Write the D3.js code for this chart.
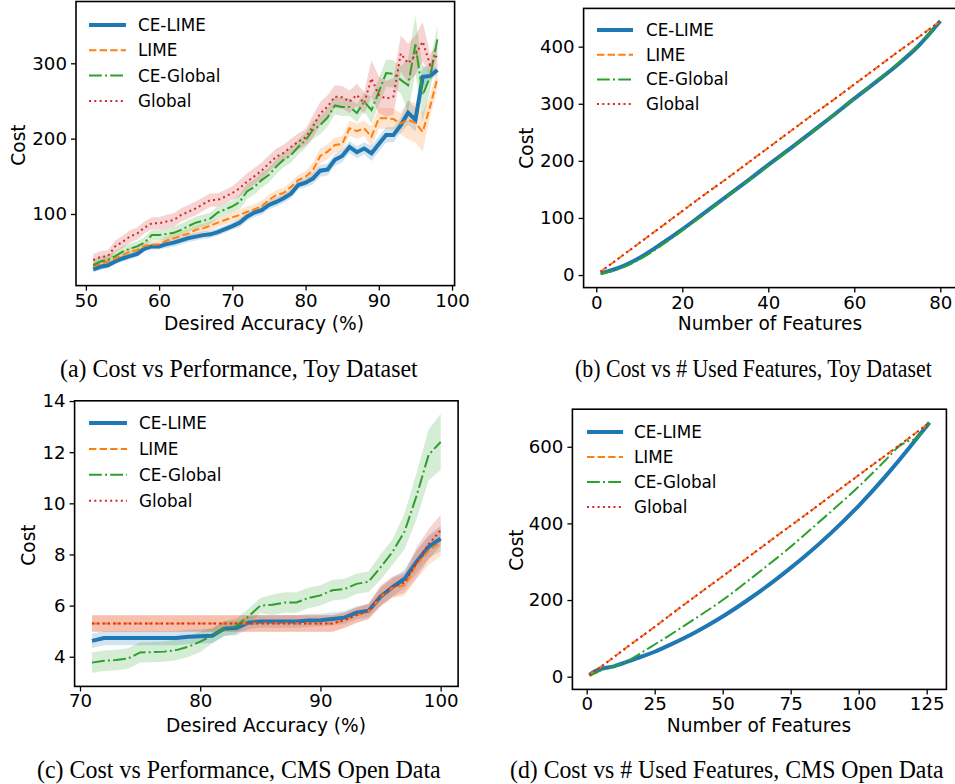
<!DOCTYPE html>
<html lang="en">
<head>
<meta charset="UTF-8">
<title>Cost vs Performance and Used Features</title>
<script src="https://d3js.org/d3.v7.min.js"></script>
<style>
  body { margin: 0; background: #fff; }
  text { font-family: "DejaVu Sans", sans-serif; fill: #000; }
  .tick text { font-size: 18.2px; }
  .tick line { stroke: #000; stroke-width: 1.3px; }
  .axis-label { font-size: 18.6px; }
  .legend-text { font-size: 16.8px; }
  .caption { font-family: "Liberation Serif", "Times New Roman", serif; font-size: 25px; }
</style>
</head>
<body>
<div id="chart"></div>
<script>
// ---- (a) toy dataset, cost vs desired accuracy ----
const accToy = [51, 52, 53, 54, 55, 56, 57, 58, 59, 60, 61, 62, 63, 64, 65, 66, 67, 68, 69, 70,
  71, 72, 73, 74, 75, 76, 77, 78, 79, 80, 81, 82, 83, 84, 85, 86, 87, 88, 89, 90,
  91, 92, 93, 94, 95, 96, 97, 98];
const toyCeLime = [26.5, 30, 32, 37, 41, 44, 47, 54, 57, 57, 60, 62, 65, 68, 70, 72, 73, 76, 80, 84,
  88.5, 96.5, 102, 105, 112, 116, 121, 127, 138.5, 141.6, 147, 157.5, 159, 172, 177, 189, 182, 187, 180.5, 193,
  205, 205, 218, 234.5, 225, 282, 283, 291];
const toyLime = [30, 34.5, 37, 41, 45.6, 50, 52, 57.5, 59, 60, 64.6, 67.7, 71, 74, 79, 81, 84.5, 88.5, 92, 95.6,
  98.7, 103, 106, 110.6, 118.6, 125, 128, 136, 145, 149.6, 158, 177, 182.7, 191.6, 193, 213.7, 210, 213.7, 202.6, 227,
  227, 226, 220, 225, 221, 209, 242.5, 280];
const toyCeGlobal = [32, 37, 39, 44, 50, 54, 57, 62, 72, 72, 73.5, 75, 79, 84, 88.5, 91, 94, 102, 106, 110,
  116, 130, 136, 145, 152, 163, 172, 178, 189, 198, 211.5, 218, 228, 244, 242, 242, 234, 249, 238, 262,
  287, 286, 278, 271, 325, 258, 282, 332];
const toyGlobal = [39, 43, 44, 57, 63, 70, 74, 82, 87.6, 87.6, 90, 92, 98.7, 103, 107.5, 113, 118.6, 118.6, 123, 128,
  134, 143, 150, 157.5, 167, 176, 181, 189, 196, 201.8, 216, 233.6, 242.5, 255.8, 254.9, 249, 258, 247, 280, 258,
  253, 256, 313, 300, 311, 328.8, 298, 311];
// half-width of the shaded bands
const toyCeLimeSd = [4, 4, 4, 4, 4, 4, 4, 4, 4, 4, 5, 5, 5, 5, 5, 5, 5, 5, 5, 5,
  6, 6, 6, 6, 6, 6, 6, 6, 6, 6, 8, 8, 8, 8, 8, 8, 8, 8, 10, 10,
  10, 10, 10, 16, 16, 16, 6, 6];
const toyLimeSd = [5, 5, 5, 5, 5, 5, 5, 5, 5, 5, 6, 6, 6, 6, 6, 6, 6, 6, 6, 6,
  7, 7, 7, 7, 7, 7, 7, 7, 7, 7, 10, 10, 10, 10, 10, 10, 10, 10, 14, 14,
  14, 14, 14, 26, 26, 26, 14, 14];
const toyCeGlobalSd = [7, 7, 7, 7, 7, 7, 7, 7, 7, 7, 8, 8, 8, 8, 8, 8, 8, 8, 8, 8,
  10, 10, 10, 10, 10, 10, 10, 10, 10, 10, 12, 12, 12, 12, 12, 12, 12, 12, 18, 18,
  18, 18, 18, 35, 38, 35, 18, 18];
const toyGlobalSd = [8, 8, 8, 8, 8, 8, 8, 8, 8, 8, 9, 9, 9, 9, 9, 9, 9, 9, 9, 9,
  11, 11, 11, 11, 11, 11, 11, 11, 11, 11, 15, 15, 15, 15, 15, 15, 15, 15, 24, 24,
  24, 24, 24, 26, 26, 26, 15, 15];

// ---- (b) toy dataset, cost vs number of features ----
const featToy = [1, 5, 10, 15, 20, 25, 30, 35, 40, 45, 50, 55, 60, 65, 70, 75, 80];
const toyFeatCeLime = [3, 12, 30, 54, 80, 108, 136, 164, 193, 221, 250, 279, 309, 338, 368, 402, 445];
const toyFeatLime = [6, 28, 56, 84, 112, 140, 167, 195, 223, 251, 279, 306, 334, 362, 390, 417, 445];
const toyFeatCeGlobal = [2, 10, 27, 51, 78, 106, 135, 163, 191, 220, 249, 279, 309, 339, 370, 404, 445];
const toyFeatGlobal = [6, 28, 56, 84, 112, 140, 167, 195, 223, 251, 279, 306, 334, 362, 390, 417, 445];

// ---- (c) CMS open data, cost vs desired accuracy ----
const accCms = [71, 72, 73, 74, 75, 76, 77, 78, 79, 80, 81, 82, 83, 84, 85, 86, 87, 88, 89, 90,
  91, 92, 93, 94, 95, 96, 97, 98, 99, 100];
const cmsCeLime = [4.62, 4.73, 4.73, 4.73, 4.73, 4.73, 4.73, 4.73, 4.78, 4.8, 4.82, 5.1, 5.12, 5.33, 5.38, 5.38, 5.38, 5.38, 5.42, 5.43,
  5.48, 5.53, 5.72, 5.8, 6.35, 6.72, 7.05, 7.72, 8.3, 8.62];
const cmsLime = [5.3, 5.3, 5.3, 5.3, 5.3, 5.3, 5.3, 5.3, 5.3, 5.3, 5.3, 5.3, 5.3, 5.3, 5.3, 5.3, 5.3, 5.3, 5.3, 5.3,
  5.3, 5.42, 5.62, 5.77, 6.35, 6.7, 6.8, 7.6, 8.15, 8.48];
const cmsCeGlobal = [3.77, 3.84, 3.87, 3.93, 4.17, 4.18, 4.2, 4.26, 4.39, 4.59, 4.82, 5.1, 5.2, 5.57, 6.0, 6.03, 6.12, 6.12, 6.3, 6.4,
  6.6, 6.65, 6.85, 6.93, 7.5, 8.1, 8.9, 10.3, 11.9, 12.4];
const cmsGlobal = [5.3, 5.3, 5.3, 5.3, 5.3, 5.3, 5.3, 5.3, 5.3, 5.3, 5.3, 5.3, 5.3, 5.3, 5.3, 5.3, 5.3, 5.3, 5.3, 5.3,
  5.3, 5.43, 5.63, 5.78, 6.38, 6.74, 6.9, 7.68, 8.4, 8.95];
const cmsCeLimeSd = [0.28, 0.28, 0.28, 0.28, 0.28, 0.28, 0.28, 0.28, 0.28, 0.28, 0.28, 0.28, 0.28, 0.25, 0.25, 0.25, 0.25, 0.25, 0.25, 0.25,
  0.25, 0.25, 0.25, 0.25, 0.35, 0.35, 0.35, 0.45, 0.45, 0.5];
const cmsLimeSd = [0.32, 0.32, 0.32, 0.32, 0.32, 0.32, 0.32, 0.32, 0.32, 0.32, 0.32, 0.32, 0.32, 0.32, 0.32, 0.32, 0.32, 0.32, 0.32, 0.32,
  0.32, 0.3, 0.3, 0.3, 0.4, 0.4, 0.4, 0.55, 0.55, 0.55];
const cmsCeGlobalSd = [0.4, 0.4, 0.4, 0.4, 0.4, 0.4, 0.4, 0.4, 0.4, 0.4, 0.3, 0.3, 0.3, 0.3, 0.3, 0.4, 0.4, 0.4, 0.4, 0.4,
  0.4, 0.4, 0.4, 0.4, 0.5, 0.5, 0.7, 0.9, 1.0, 1.1];
const cmsGlobalSd = [0.32, 0.32, 0.32, 0.32, 0.32, 0.32, 0.32, 0.32, 0.32, 0.32, 0.32, 0.32, 0.32, 0.32, 0.32, 0.32, 0.32, 0.32, 0.32, 0.32,
  0.32, 0.3, 0.3, 0.3, 0.4, 0.4, 0.4, 0.6, 0.6, 0.6];

// ---- (d) CMS open data, cost vs number of features ----
const featCms = [1, 3, 5, 10, 15, 20, 25, 30, 40, 50, 60, 70, 75, 80, 90, 100, 110, 115, 118, 121, 126];
const cmsFeatCeLime = [4, 14, 20, 27, 39, 52, 65, 81, 116, 157, 204, 256, 284, 313, 376, 446, 524, 566, 592, 619, 663];
const cmsFeatLime = [4, 15, 25, 51, 78, 104, 130, 157, 210, 262, 315, 368, 394, 420, 473, 526, 578, 604, 620, 636, 663];
const cmsFeatCeGlobal = [3, 9, 15, 27, 41, 62, 84, 106, 152, 200, 254, 310, 339, 370, 432, 496, 566, 602, 614, 621, 663];
const cmsFeatGlobal = [4, 15, 25, 51, 78, 104, 130, 157, 210, 262, 315, 368, 394, 420, 473, 526, 578, 604, 620, 636, 663];

// tick values
const ticksAccToy = [50, 60, 70, 80, 90, 100];
const ticksCostToy = [100, 200, 300];
const ticksFeatToy = [0, 20, 40, 60, 80];
const ticksCostFeatToy = [0, 100, 200, 300, 400];
const ticksAccCms = [70, 80, 90, 100];
const ticksCostCms = [4, 6, 8, 10, 12, 14];
const ticksFeatCms = [0, 25, 50, 75, 100, 125];
const ticksCostFeatCms = [0, 200, 400, 600];

const seriesNames = ["CE-LIME", "LIME", "CE-Global", "Global"];
const colors = ["#1f77b4", "#ff7f0e", "#2ca02c", "#d62728"];
const widths = [4, 2, 2, 2];
const dashes = [null, "7.4,3.2", "12.8,3.2,2,3.2", "2,3.3"];

const svg = d3.select("#chart").append("svg")
    .attr("width", 955)
    .attr("height", 784);

const panels = [
  { id: "a", x: accToy, ys: [toyCeLime, toyLime, toyCeGlobal, toyGlobal],
    sds: [toyCeLimeSd, toyLimeSd, toyCeGlobalSd, toyGlobalSd],
    xDomain: [48.65, 100.35], xRange: [76, 454.6], yDomain: [5, 382], yRange: [285.6, 1.5],
    xTicks: ticksAccToy, yTicks: ticksCostToy, curve: d3.curveLinear,
    xLabel: "Desired Accuracy (%)", xLab: [264, 330], yLab: [25, 145],
    legend: { x: 89, y: 25, step: 25.3, len: 37, tx: 138 },
    caption: "(a) Cost vs Performance, Toy Dataset", cap: [60, 377, 358] },
  { id: "b", x: featToy, ys: [toyFeatCeLime, toyFeatLime, toyFeatCeGlobal, toyFeatGlobal], sds: null,
    xDomain: [-2.95, 83.95], xRange: [583.6, 957.3], yDomain: [-22, 467], yRange: [287.6, 8.4],
    xTicks: ticksFeatToy, yTicks: ticksCostFeatToy, curve: d3.curveMonotoneX,
    xLabel: "Number of Features", xLab: [770, 330], yLab: [533, 148],
    legend: { x: 597, y: 30, step: 24.7, len: 36, tx: 646 },
    caption: "(b) Cost vs # Used Features, Toy Dataset", cap: [575, 377, 357] },
  { id: "c", x: accCms, ys: [cmsCeLime, cmsLime, cmsCeGlobal, cmsGlobal],
    sds: [cmsCeLimeSd, cmsLimeSd, cmsCeGlobalSd, cmsGlobalSd],
    xDomain: [69.55, 101.45], xRange: [74.6, 458.1], yDomain: [2.84, 14.01], yRange: [686.4, 400.8],
    xTicks: ticksAccCms, yTicks: ticksCostCms, curve: d3.curveLinear,
    xLabel: "Desired Accuracy (%)", xLab: [266, 731.7], yLab: [35, 545],
    legend: { x: 89, y: 423, step: 25.9, len: 38, tx: 139 },
    caption: "(c) Cost vs Performance, CMS Open Data", cap: [37, 778, 404] },
  { id: "d", x: featCms, ys: [cmsFeatCeLime, cmsFeatLime, cmsFeatCeGlobal, cmsFeatGlobal], sds: null,
    xDomain: [-5.25, 132.25], xRange: [572.4, 946.4], yDomain: [-33.2, 698], yRange: [689.4, 409.2],
    xTicks: ticksFeatCms, yTicks: ticksCostFeatCms, curve: d3.curveMonotoneX,
    xLabel: "Number of Features", xLab: [759, 732.3], yLab: [522.7, 550],
    legend: { x: 587, y: 432, step: 25, len: 36, tx: 634 },
    caption: "(d) Cost vs # Used Features, CMS Open Data", cap: [510, 778, 434] }
];

panels.forEach(p => {
  const x = d3.scaleLinear().domain(p.xDomain).range(p.xRange);
  const y = d3.scaleLinear().domain(p.yDomain).range(p.yRange);
  const g = svg.append("g");

  g.append("clipPath").attr("id", "clip-" + p.id)
    .append("rect")
      .attr("x", p.xRange[0]).attr("y", p.yRange[1])
      .attr("width", p.xRange[1] - p.xRange[0])
      .attr("height", p.yRange[0] - p.yRange[1]);

  const plot = g.append("g").attr("clip-path", "url(#clip-" + p.id + ")");

  // shaded bands
  if (p.sds) {
    p.ys.forEach((vals, i) => {
      const area = d3.area()
        .x((d, j) => x(p.x[j]))
        .y0((d, j) => y(d - p.sds[i][j]))
        .y1((d, j) => y(d + p.sds[i][j]));
      plot.append("path")
        .datum(vals)
        .attr("d", area)
        .attr("fill", colors[i])
        .attr("fill-opacity", 0.2);
    });
  }

  // lines
  p.ys.forEach((vals, i) => {
    const line = d3.line()
      .x((d, j) => x(p.x[j]))
      .y(d => y(d))
      .curve(p.curve);
    plot.append("path")
      .datum(vals)
      .attr("d", line)
      .attr("fill", "none")
      .attr("stroke", colors[i])
      .attr("stroke-width", widths[i])
      .attr("stroke-dasharray", dashes[i]);
  });

  // axes
  const xAxis = g.append("g")
    .attr("transform", "translate(0," + p.yRange[0] + ")")
    .call(d3.axisBottom(x).tickValues(p.xTicks).tickSize(5).tickPadding(3).tickFormat(d3.format("d")));
  const yAxis = g.append("g")
    .attr("transform", "translate(" + p.xRange[0] + ",0)")
    .call(d3.axisLeft(y).tickValues(p.yTicks).tickSize(5).tickPadding(4).tickFormat(d3.format("d")));
  [xAxis, yAxis].forEach(a => {
    a.attr("font-size", null).attr("font-family", null);
    a.select(".domain").remove();
  });

  // frame
  g.append("rect")
    .attr("x", p.xRange[0]).attr("y", p.yRange[1])
    .attr("width", p.xRange[1] - p.xRange[0])
    .attr("height", p.yRange[0] - p.yRange[1])
    .attr("fill", "none")
    .attr("stroke", "#000")
    .attr("stroke-width", 1.6);

  // axis labels
  g.append("text")
    .attr("class", "axis-label")
    .attr("x", p.xLab[0]).attr("y", p.xLab[1])
    .attr("text-anchor", "middle")
    .text(p.xLabel);
  g.append("text")
    .attr("class", "axis-label")
    .attr("transform", "translate(" + p.yLab[0] + "," + p.yLab[1] + ") rotate(-90)")
    .attr("text-anchor", "middle")
    .text("Cost");

  // legend
  const lg = g.append("g");
  seriesNames.forEach((name, i) => {
    const ly = p.legend.y + i * p.legend.step;
    lg.append("line")
      .attr("x1", p.legend.x).attr("x2", p.legend.x + p.legend.len)
      .attr("y1", ly).attr("y2", ly)
      .attr("stroke", colors[i])
      .attr("stroke-width", widths[i])
      .attr("stroke-dasharray", dashes[i]);
    lg.append("text")
      .attr("class", "legend-text")
      .attr("x", p.legend.tx).attr("y", ly)
      .attr("dy", "0.36em")
      .text(name);
  });

  // caption: narrow serif, squeezed horizontally to the reference width
  const cg = svg.append("g");
  const ct = cg.append("text")
    .attr("class", "caption")
    .attr("x", 0).attr("y", 0)
    .text(p.caption);
  const natural = ct.node().getComputedTextLength();
  cg.attr("transform", "translate(" + p.cap[0] + "," + p.cap[1] + ") scale(" + (p.cap[2] / natural) + ",1)");
});
</script>
</body>
</html>
